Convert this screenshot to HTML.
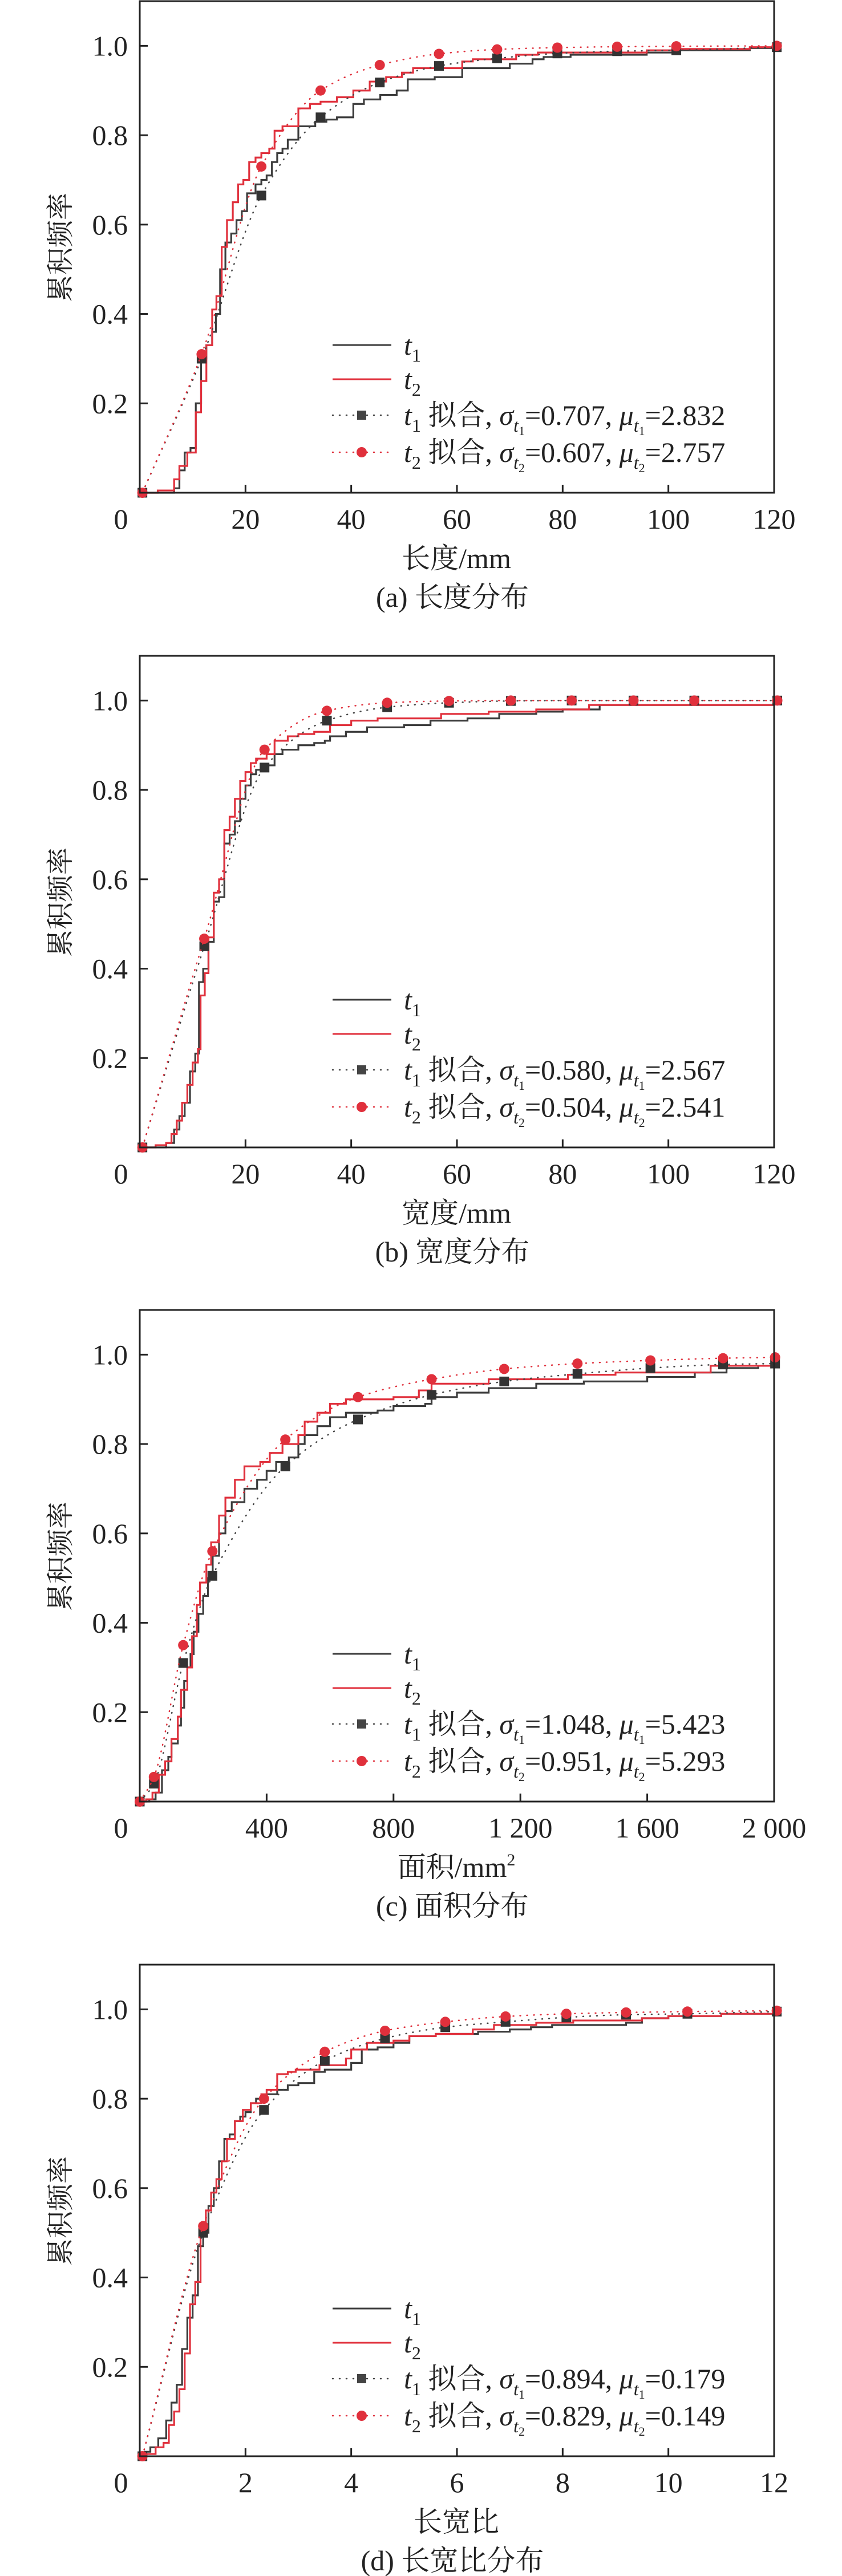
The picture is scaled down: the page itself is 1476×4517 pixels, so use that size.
<!DOCTYPE html>
<html><head><meta charset="utf-8">
<style>
html,body{margin:0;padding:0;background:#fff;}
svg{display:block;}
text{font-family:"Liberation Serif","Noto Serif CJK SC","Noto Sans CJK SC",serif;fill:#222;}
</style></head>
<body>
<svg id="fig" width="1476" height="4517" viewBox="0 0 1476 4517" xmlns="http://www.w3.org/2000/svg"></svg>
<script>
// ---------- Panel (a) length ----------
const aT1X=[6.5,7.5,8.5,9.6,10.6,11.6,12.6,13.7,14.4,15.2,16.2,17.3,18.3,19.3,20.3,21.9,23,24,25,26,27,28,30,33.2,35.3,37.3,40.4,42.4,45.5,48.6,50.7,55.8,61,70,74.3,76.4,81.5,95.9,102,115.4,120];
const aT1Y=[0.01,0.05,0.09,0.1,0.2,0.3,0.33,0.36,0.4,0.5,0.56,0.58,0.61,0.63,0.67,0.69,0.7,0.71,0.74,0.76,0.77,0.79,0.82,0.83,0.835,0.84,0.87,0.88,0.89,0.9,0.925,0.93,0.95,0.96,0.97,0.975,0.98,0.985,0.99,0.995,0.995];
const aT2X=[3.4,6.5,7.5,9,10.6,11.6,12.6,13.7,14.5,15.5,16.5,17.6,18.6,19.6,20.7,21.9,23,24.5,25.5,27,30,32.2,34.2,37.3,40.4,43.5,46.6,49.6,51.7,61,63,71.2,75.3,95.9,102,115.4,120];
const aT2Y=[0.005,0.03,0.06,0.09,0.18,0.25,0.33,0.41,0.44,0.55,0.61,0.65,0.69,0.7,0.74,0.75,0.76,0.77,0.81,0.82,0.86,0.87,0.875,0.885,0.9,0.92,0.93,0.94,0.95,0.965,0.97,0.98,0.985,0.99,0.993,0.997,0.997];
const aFitX=[0.5,11.7,23,34.2,45.4,56.6,67.6,79,90.3,101.5,120.5];
const aFitT1=[0,0.30,0.665,0.84,0.918,0.955,0.972,0.983,0.988,0.99,0.997];
const aFitT2=[0,0.31,0.73,0.90,0.957,0.982,0.992,0.996,0.998,0.999,1.0];
// ---------- Panel (b) width ----------
const bT1X=[5,6.5,7.5,8.5,9.5,10.5,11.2,12,13,14,15,16,17,18,19,20,21,22,24,25.5,27,30,33,35,36,39,43,50,55,62,68,75,80,87,120];
const bT1Y=[0.01,0.04,0.07,0.1,0.17,0.21,0.37,0.4,0.46,0.55,0.56,0.68,0.7,0.73,0.78,0.81,0.835,0.845,0.855,0.88,0.89,0.9,0.905,0.91,0.92,0.93,0.94,0.945,0.955,0.96,0.97,0.975,0.98,0.99,0.99];
const bT2X=[3,5,6,7,8,9,10,11,11.5,12.3,13,14,15,16,17,18,19,20,21,22,24,25.5,28,30,33,36,40,45,57,66,75,85,120];
const bT2Y=[0.005,0.01,0.03,0.06,0.1,0.14,0.19,0.22,0.34,0.39,0.47,0.57,0.6,0.71,0.74,0.78,0.82,0.84,0.86,0.87,0.88,0.91,0.92,0.925,0.93,0.945,0.955,0.96,0.97,0.975,0.98,0.99,0.99];
const bFitX=[0.5,12.2,23.6,35.4,46.8,58.5,70.2,81.7,93.4,104.9,120.6];
const bFitT1=[0,0.45,0.85,0.955,0.985,0.995,0.999,1,1,1,1];
const bFitT2=[0,0.467,0.89,0.977,0.995,0.999,1,1,1,1,1];
// ---------- Panel (c) area ----------
const cT1X=[30,50,70,90,100,120,130,140,150,160,170,185,200,215,230,250,270,290,330,370,400,430,470,500,520,560,600,650,750,800,900,920,1000,1100,1250,1400,1600,1750,1850,1950,2000];
const cT1Y=[0.005,0.02,0.07,0.1,0.13,0.17,0.21,0.27,0.3,0.33,0.38,0.42,0.46,0.5,0.55,0.6,0.65,0.67,0.7,0.72,0.74,0.76,0.77,0.8,0.82,0.84,0.86,0.87,0.875,0.885,0.89,0.905,0.915,0.925,0.935,0.94,0.95,0.96,0.97,0.975,0.975];
const cT2X=[20,40,60,80,100,120,130,150,165,180,190,210,225,250,270,300,330,380,410,450,500,520,560,600,650,800,880,920,1100,1350,1500,1800,2000];
const cT2Y=[0.005,0.02,0.06,0.09,0.14,0.19,0.25,0.3,0.37,0.44,0.49,0.53,0.58,0.64,0.68,0.72,0.75,0.76,0.78,0.8,0.82,0.85,0.87,0.89,0.9,0.905,0.92,0.935,0.945,0.955,0.96,0.975,0.98];
const cFitX=[0,44.5,137,229,459,688,920,1149,1380,1610,1839,2003];
const cFitT1=[0,0.04,0.31,0.505,0.75,0.855,0.91,0.94,0.957,0.97,0.978,0.98];
const cFitT2=[0,0.055,0.35,0.56,0.81,0.905,0.945,0.968,0.98,0.987,0.992,0.994];
// ---------- Panel (d) aspect ratio ----------
const dT1X=[0.1,0.2,0.35,0.5,0.6,0.7,0.8,0.9,1.0,1.1,1.2,1.3,1.4,1.5,1.6,1.7,1.8,1.9,2.0,2.1,2.2,2.4,2.6,2.8,3.0,3.3,3.5,4.0,4.2,4.5,4.8,5.1,5.6,6.4,7.0,7.4,7.8,9.2,9.5,10,11,12];
const dT1Y=[0.01,0.02,0.04,0.08,0.12,0.16,0.24,0.31,0.36,0.47,0.5,0.56,0.6,0.66,0.71,0.72,0.75,0.76,0.77,0.79,0.8,0.81,0.82,0.83,0.835,0.86,0.865,0.88,0.91,0.915,0.925,0.94,0.945,0.95,0.955,0.96,0.965,0.97,0.98,0.985,0.99,0.99];
const dT2X=[0.1,0.3,0.45,0.55,0.65,0.75,0.85,0.95,1.05,1.15,1.25,1.35,1.45,1.55,1.65,1.8,1.95,2.1,2.3,2.4,2.6,2.8,2.95,3.4,3.9,4.0,4.3,4.8,5.1,5.6,6.3,6.7,7.5,8.2,9.5,10,11,12];
const dT2Y=[0.005,0.02,0.03,0.07,0.1,0.15,0.23,0.34,0.39,0.5,0.55,0.59,0.62,0.66,0.71,0.75,0.775,0.79,0.81,0.82,0.855,0.86,0.865,0.875,0.89,0.91,0.925,0.93,0.94,0.945,0.955,0.965,0.97,0.975,0.98,0.985,0.99,0.99];
const dFitX=[0.05,1.2,2.35,3.5,4.64,5.78,6.92,8.07,9.2,10.36,12.05];
const dFitT1=[0,0.5,0.775,0.885,0.935,0.96,0.972,0.982,0.988,0.99,0.995];
const dFitT2=[0,0.515,0.8,0.905,0.952,0.972,0.984,0.99,0.993,0.995,0.997];

const yTicks=[0.2,0.4,0.6,0.8,1.0];
const yTickLabels=["0.2","0.4","0.6","0.8","1.0"];
const aXTicks=[0,20,40,60,80,100,120];
const aXTickLabels=["0","20","40","60","80","100","120"];
const cXTicks=[0,400,800,1200,1600,2000];
const cXTickLabels=["0","400","800","1 200","1 600","2 000"];
const dXTicks=[0,2,4,6,8,10,12];
const dXTickLabels=["0","2","4","6","8","10","12"];
const aParams=["0.707","2.832","0.607","2.757"];
const bParams=["0.580","2.567","0.504","2.541"];
const cParams=["1.048","5.423","0.951","5.293"];
const dParams=["0.894","0.179","0.829","0.149"];

const NS="http://www.w3.org/2000/svg";
const svg=document.getElementById('fig');
const L=245,R=1357,PH=862;
const BLACK="#3c3c3c",RED="#e0303c";
function mk(tag,attrs,parent){const e=document.createElementNS(NS,tag);for(const k in attrs)e.setAttribute(k,attrs[k]);parent.appendChild(e);return e;}

function monotonePath(xs,ys){
  const n=xs.length;const d=[],m=[];
  for(let i=0;i<n-1;i++){d.push((ys[i+1]-ys[i])/(xs[i+1]-xs[i]));}
  for(let i=0;i<n;i++){
    if(i===0)m.push(d[0]);else if(i===n-1)m.push(d[n-2]);
    else{ if(d[i-1]*d[i]<=0)m.push(0); else m.push(2/(1/d[i-1]+1/d[i])); }
  }
  let p=`M${xs[0]},${ys[0]}`;
  for(let i=0;i<n-1;i++){const h=xs[i+1]-xs[i];
    p+=` C${xs[i]+h/3},${ys[i]+m[i]*h/3} ${xs[i+1]-h/3},${ys[i+1]-m[i+1]*h/3} ${xs[i+1]},${ys[i+1]}`;}
  return p;
}

function panel(cfg){
  const top=cfg.top,bot=top+PH;
  const g=mk('g',{},svg);
  
  
  const sx=v=>L+(v-cfg.xmin)/(cfg.xmax-cfg.xmin)*(R-L);
  const sy=v=>bot-v/1.1*PH;
  function step(xs,ys,col,nm){
    let p=`M${sx(cfg.x0)},${sy(0)}`;
    for(let i=0;i<xs.length;i++){p+=` H${sx(xs[i])} V${sy(ys[i])}`;}
    p+=` H${R}`;
    const e=mk('path',{d:p,fill:'none',stroke:col,'stroke-width':3.2},g);
    
    
  }
  step(cfg.t1x,cfg.t1y,BLACK,'t1-step-line');
  step(cfg.t2x,cfg.t2y,RED,'t2-step-line');
  function fit(ys,col,nm,shape){
    const px=cfg.fx.map(sx),py=ys.map(sy);
    const e=mk('path',{d:monotonePath(px,py),fill:'none',stroke:col,'stroke-width':2.5,'stroke-dasharray':'1 11','stroke-linecap':'round'},g);
    
    
    for(let i=0;i<px.length;i++){
      let m;
      if(shape==='sq'){m=mk('rect',{x:px[i]-8.5,y:py[i]-8.5,width:17,height:17,fill:'#333'},g);}
      else{m=mk('circle',{cx:px[i],cy:py[i],r:9,fill:RED},g);}
      
      
    }
  }
  fit(cfg.f1,'#444','t1-fit','sq');
  fit(cfg.f2,RED,'t2-fit','ci');
  const fr=mk('rect',{x:L,y:top,width:R-L,height:PH,fill:'none',stroke:'#222','stroke-width':3},g);
  
  
  yTicks.forEach((t,i)=>{
    const y=sy(t);
    const tk=mk('line',{x1:L,x2:L+14,y1:y,y2:y,stroke:'#222','stroke-width':3},g);
    
    
    const tx=mk('text',{x:224,y:y+17,'font-size':50,'text-anchor':'end'},g);
    tx.textContent=yTickLabels[i];
    
    
  });
  cfg.xt.forEach((t,i)=>{
    const x=sx(t);
    if(i>0&&i<cfg.xt.length-1){
      const tk=mk('line',{x1:x,x2:x,y1:bot,y2:bot-14,stroke:'#222','stroke-width':3},g);
      
      
    }
    const lx=i===0?x-33:x;
    const tx=mk('text',{x:lx,y:bot+63,'font-size':50,'text-anchor':'middle'},g);
    tx.textContent=cfg.xl[i];
    
    
  });
  const yt=mk('text',{x:0,y:0,'font-size':48,'text-anchor':'middle',transform:`translate(122,${top+432}) rotate(-90)`},g);
  yt.textContent='累积频率';
  
  
  const xt=mk('text',{x:800,y:bot+132,'font-size':50,'text-anchor':'middle'},g);
  xt.innerHTML=cfg.xtitle;
  
  
  const cp=mk('text',{x:793,y:bot+200,'font-size':50,'text-anchor':'middle'},g);
  cp.textContent=cfg.caption;
  
  
  const lg=mk('g',{},g);
  
  
  const rows=[top+603,top+663,top+726,top+791];
  function sub(n){return `<tspan font-size="32" dy="12">${n}</tspan><tspan dy="-12"> </tspan>`;}
  function subsub(n){return `<tspan font-size="32" font-style="italic" dy="12">t</tspan><tspan font-size="22" dy="6">${n}</tspan><tspan dy="-18">=</tspan>`;}
  const lines=[
    ['line',BLACK,`<tspan font-style="italic">t</tspan>${sub(1)}`,'legend-entry-t1'],
    ['line',RED,`<tspan font-style="italic">t</tspan>${sub(2)}`,'legend-entry-t2'],
    ['sq','#444',`<tspan font-style="italic">t</tspan>${sub(1)}拟合, <tspan font-style="italic">σ</tspan>${subsub(1)}${cfg.p[0]}, <tspan font-style="italic">μ</tspan>${subsub(1)}${cfg.p[1]}`,'legend-entry-t1-fit'],
    ['ci',RED,`<tspan font-style="italic">t</tspan>${sub(2)}拟合, <tspan font-style="italic">σ</tspan>${subsub(2)}${cfg.p[2]}, <tspan font-style="italic">μ</tspan>${subsub(2)}${cfg.p[3]}`,'legend-entry-t2-fit']
  ];
  lines.forEach((r,i)=>{
    const y=rows[i];
    const eg=mk('g',{},lg);
    
    
    if(r[0]==='line'){mk('line',{x1:583,x2:686,y1:y,y2:y,stroke:r[1],'stroke-width':3},eg);}
    else{
      mk('line',{x1:583,x2:686,y1:y,y2:y,stroke:r[1],'stroke-width':2.5,'stroke-dasharray':'1 11','stroke-linecap':'round'},eg);
      if(r[0]==='sq')mk('rect',{x:626,y:y-8,width:16,height:16,fill:'#444'},eg);
      else mk('circle',{cx:634,cy:y,r:9,fill:RED},eg);
    }
    const t=mk('text',{x:708,y:y+17,'font-size':50},eg);
    t.innerHTML=r[2];
  });
}

panel({name:'panel-a-length',top:2,xmin:0,xmax:120,x0:0.5,t1x:aT1X,t1y:aT1Y,t2x:aT2X,t2y:aT2Y,fx:aFitX,f1:aFitT1,f2:aFitT2,xt:aXTicks,xl:aXTickLabels,p:aParams,xtitle:'长度/mm',caption:'(a) 长度分布'});
panel({name:'panel-b-width',top:1150,xmin:0,xmax:120,x0:0.5,t1x:bT1X,t1y:bT1Y,t2x:bT2X,t2y:bT2Y,fx:bFitX,f1:bFitT1,f2:bFitT2,xt:aXTicks,xl:aXTickLabels,p:bParams,xtitle:'宽度/mm',caption:'(b) 宽度分布'});
panel({name:'panel-c-area',top:2297,xmin:0,xmax:2000,x0:0,t1x:cT1X,t1y:cT1Y,t2x:cT2X,t2y:cT2Y,fx:cFitX,f1:cFitT1,f2:cFitT2,xt:cXTicks,xl:cXTickLabels,p:cParams,xtitle:'面积/mm<tspan font-size="30" dy="-20">2</tspan>',caption:'(c) 面积分布'});
panel({name:'panel-d-aspect-ratio',top:3445,xmin:0,xmax:12,x0:0.05,t1x:dT1X,t1y:dT1Y,t2x:dT2X,t2y:dT2Y,fx:dFitX,f1:dFitT1,f2:dFitT2,xt:dXTicks,xl:dXTickLabels,p:dParams,xtitle:'长宽比',caption:'(d) 长宽比分布'});
</script>
</body></html>
